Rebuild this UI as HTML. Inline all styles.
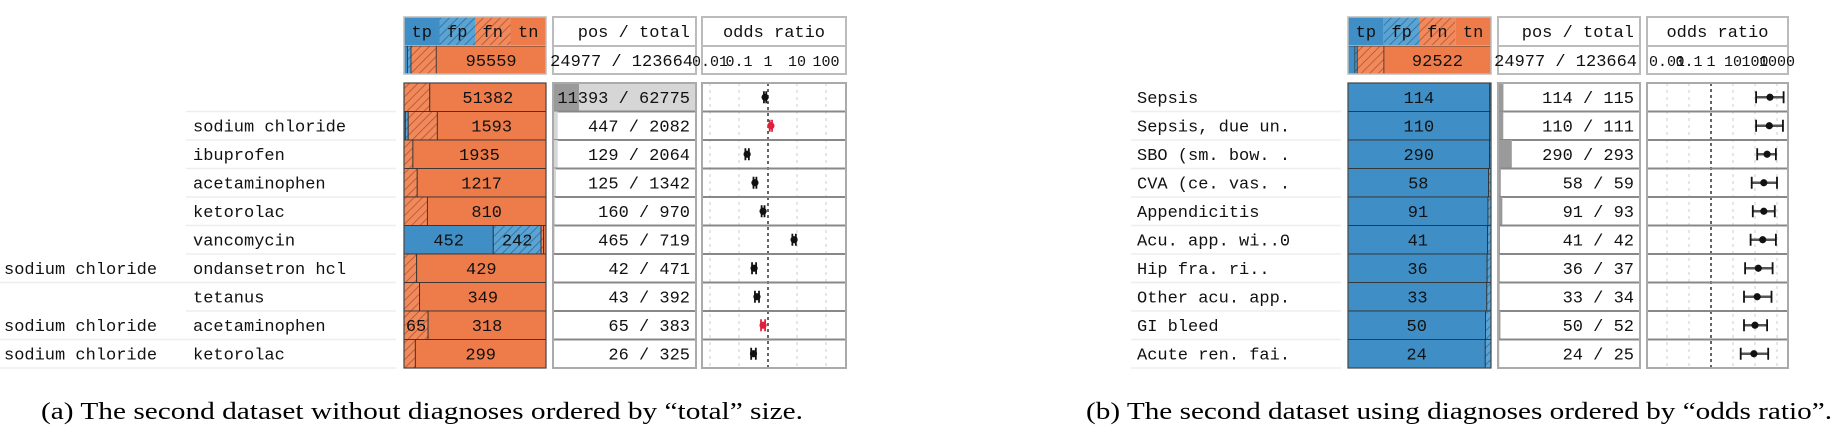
<!DOCTYPE html>
<html><head><meta charset="utf-8"><style>
body{margin:0;background:#fff;}
svg text{font-family:"Liberation Mono",monospace;}
</style></head><body>
<svg id="c" width="1839" height="436" viewBox="0 0 1839 436" xmlns="http://www.w3.org/2000/svg">
<defs>
<pattern id="hb" width="6" height="6" patternUnits="userSpaceOnUse" patternTransform="rotate(45)"><rect width="6" height="6" fill="#5aa3d3"/><line x1="0" y1="0" x2="0" y2="6" stroke="#2a6f9e" stroke-width="1.6"/></pattern>
<pattern id="ho" width="6" height="6" patternUnits="userSpaceOnUse" patternTransform="rotate(45)"><rect width="6" height="6" fill="#f08a5d"/><line x1="0" y1="0" x2="0" y2="6" stroke="#b8502a" stroke-width="1.6"/></pattern>
</defs>
<g id="A"></g>
<g id="B"></g>
<text x="41" y="419" font-size="24" textLength="762" lengthAdjust="spacingAndGlyphs" style="font-family:'Liberation Serif',serif">(a)  The second dataset without diagnoses ordered by “total” size.</text>
<text x="1086" y="419" font-size="24" textLength="746" lengthAdjust="spacingAndGlyphs" style="font-family:'Liberation Serif',serif">(b)  The second dataset using diagnoses ordered by “odds ratio”.</text>
</svg>
<script>
// Panel A data
const aLabel1 = ["", "", "", "", "", "", "sodium chloride", "", "sodium chloride", "sodium chloride"];
const aLabel2 = ["", "sodium chloride", "ibuprofen", "acetaminophen", "ketorolac", "vancomycin", "ondansetron hcl", "tetanus", "acetaminophen", "ketorolac"];
const aTp = [0, 20, 0, 0, 0, 452, 0, 0, 0, 0];
const aFp = [0, 42, 0, 0, 0, 242, 0, 0, 0, 0];
const aFn = [11393, 427, 129, 125, 160, 13, 42, 43, 65, 26];
const aTn = [51382, 1593, 1935, 1217, 810, 12, 429, 349, 318, 299];
const aExtra = [-1, -1, -1, -1, -1, 1, -1, -1, 2, -1];
const aLogOR = [-0.1, 0.1, -0.72, -0.45, -0.17, 0.9, -0.48, -0.38, -0.17, -0.5];
const aLogLo = [-0.14, 0.06, -0.78, -0.5, -0.22, 0.84, -0.55, -0.45, -0.24, -0.58];
const aLogHi = [-0.06, 0.14, -0.66, -0.4, -0.12, 0.96, -0.41, -0.31, -0.1, -0.42];
const aRed = [false, true, false, false, false, false, false, false, true, false];
const aSummary = [3000, 3128, 21977, 95559];
const aTicks = ["0.01", "0.1", "1", "10", "100"];
const aTickLogs = [-2, -1, 0, 1, 2];
// Panel B data
const bLabel2 = ["Sepsis", "Sepsis, due un.", "SBO (sm. bow. .", "CVA (ce. vas. .", "Appendicitis", "Acu. app. wi..0", "Hip fra. ri..", "Other acu. app.", "GI bleed", "Acute ren. fai."];
const bTp = [114, 110, 290, 58, 91, 41, 36, 33, 50, 24];
const bFp = [1, 1, 3, 1, 2, 1, 1, 1, 2, 1];
const bFn = [0, 0, 0, 0, 0, 0, 0, 0, 0, 0];
const bTn = [0, 0, 0, 0, 0, 0, 0, 0, 0, 0];
const bLogOR = [2.68, 2.65, 2.55, 2.4, 2.4, 2.35, 2.15, 2.1, 2.0, 1.95];
const bLogLo = [2.05, 2.05, 2.1, 1.85, 1.9, 1.8, 1.55, 1.5, 1.5, 1.35];
const bLogHi = [3.3, 3.27, 2.95, 3.0, 2.9, 2.95, 2.8, 2.75, 2.55, 2.6];
const bSummary = [6000, 2000, 23000, 92522];
const bTicks = ["0.01", "0.1", "1", "10", "100", "1000"];
const bTickLogs = [-2, -1, 0, 1, 2, 3];

const NS = "http://www.w3.org/2000/svg";
function el(p, tag, at, txt){const e=document.createElementNS(NS,tag);for(const k in at)e.setAttribute(k,at[k]);if(txt!==undefined)e.textContent=txt;p.appendChild(e);return e;}
const fills = ["#3f8fc6", "url(#hb)", "url(#ho)", "#ee7c4a"];

function panel(g, cfg){
  const {sx, sw, px, pw, ox, ow, one, dec, lab1x, lab2x, sepx0, sepx1, maxTot, rows, summary, ticks, tickLogs, header2} = cfg;
  const y0=83, rh=28.5;
  const xOR = v => one + v*dec;
  const names=["tp","fp","fn","tn"];
  for(let i=0;i<4;i++){
    const w=sw/4, x=sx+i*w;
    const r=el(g,"rect",{x:x,y:17,width:w,height:28,fill:fills[i]});
    
    
    const t=el(g,"text",{x:x+w/2,y:37,"font-size":17,"text-anchor":"middle",fill:"#111"},names[i]);
    
    
  }
  const stot=summary.reduce((a,b)=>a+b,0);
  let cx=sx;
  for(let i=0;i<4;i++){
    const w=summary[i]/stot*sw;
    const r=el(g,"rect",{x:cx,y:46,width:w,height:28,fill:fills[i],stroke:"#333","stroke-width":0.8});
    
    
    if(i==3){const t=el(g,"text",{x:cx+w/2,y:66,"font-size":17,"text-anchor":"middle",fill:"#111"},String(summary[3]));
      }
    cx+=w;
  }
  el(g,"rect",{x:sx,y:17,width:sw,height:57,fill:"none",stroke:"#bbb","stroke-width":1.5});
  el(g,"rect",{x:px,y:17,width:pw,height:57,fill:"#fff",stroke:"#bbb","stroke-width":2});
  el(g,"line",{x1:px,y1:46,x2:px+pw,y2:46,stroke:"#bbb","stroke-width":2});
  let t=el(g,"text",{x:px+pw-6,y:37,"font-size":17,"text-anchor":"end",fill:"#111"},"pos / total");
  
  t=el(g,"text",{x:px+pw-3,y:66,"font-size":17,"text-anchor":"end",fill:"#111"},header2);
  
  el(g,"rect",{x:ox,y:17,width:ow,height:57,fill:"#fff",stroke:"#bbb","stroke-width":2});
  el(g,"line",{x1:ox,y1:46,x2:ox+ow,y2:46,stroke:"#bbb","stroke-width":2});
  t=el(g,"text",{x:ox+ow/2,y:37,"font-size":17,"text-anchor":"middle",fill:"#111"},"odds ratio");
  
  for(let i=0;i<ticks.length;i++){
    const tt=el(g,"text",{x:xOR(tickLogs[i]),y:66,"font-size":15,"text-anchor":"middle",fill:"#111"},ticks[i]);
    
    
  }
  const n=rows.tp.length, yEnd=y0+n*rh;
  el(g,"rect",{x:ox,y:y0,width:ow,height:n*rh,fill:"#fff",stroke:"#aaa","stroke-width":2});
  for(let i=0;i<tickLogs.length;i++){
    const x=xOR(tickLogs[i]);
    if(tickLogs[i]===0) continue;
    el(g,"line",{x1:x,y1:y0,x2:x,y2:yEnd,stroke:"#ccc","stroke-width":1,"stroke-dasharray":"3,4"});
  }
  el(g,"line",{x1:xOR(0),y1:y0,x2:xOR(0),y2:yEnd,stroke:"#111","stroke-width":1.3,"stroke-dasharray":"3,3"});
  el(g,"rect",{x:px,y:y0,width:pw,height:n*rh,fill:"#fff",stroke:"#aaa","stroke-width":2});
  for(let r=0;r<n;r++){
    const y=y0+r*rh;
    if(rows.l1 && rows.l1[r]){const lt=el(g,"text",{x:lab1x,y:y+20,"font-size":17,fill:"#111"},rows.l1[r]);
      }
    if(rows.l2[r]){const lt=el(g,"text",{x:lab2x,y:y+20,"font-size":17,fill:"#111"},rows.l2[r]);
      }
    el(g,"line",{x1:(rows.l1&&rows.l1[r])?0:sepx0,y1:y+rh,x2:sepx1,y2:y+rh,stroke:"#eee","stroke-width":1.5});
    const vals=[rows.tp[r],rows.fp[r],rows.fn[r],rows.tn[r]];
    const tot=vals.reduce((a,b)=>a+b,0);
    let mx=0;for(let i=1;i<4;i++)if(vals[i]>vals[mx])mx=i;
    let x=sx;
    for(let i=0;i<4;i++){
      const w=vals[i]/tot*sw;
      if(w<=0)continue;
      const sr=el(g,"rect",{x:x,y:y,width:w,height:rh,fill:fills[i],stroke:"#333","stroke-width":0.9});
      
      
      if(i===mx||i===rows.extra[r]){
        const st=el(g,"text",{x:x+w/2,y:y+20,"font-size":17,"text-anchor":"middle",fill:"#111"},String(vals[i]));
        
        
      }
      x+=w;
    }
    const pos=rows.tp[r]+rows.fn[r];
    const tw=Math.min(1,tot/maxTot)*pw, pwid=Math.min(1,pos/maxTot)*pw;
    const tr=el(g,"rect",{x:px,y:y,width:tw,height:rh,fill:"#d6d6d6"});
    
    const pr=el(g,"rect",{x:px,y:y,width:pwid,height:rh,fill:"#9a9a9a"});
    
    const ptx=el(g,"text",{x:px+pw-6,y:y+20,"font-size":17,"text-anchor":"end",fill:"#111"},pos+" / "+tot);
    
    
    el(g,"line",{x1:px,y1:y+rh,x2:px+pw,y2:y+rh,stroke:"#888","stroke-width":2});
    el(g,"line",{x1:ox,y1:y+rh,x2:ox+ow,y2:y+rh,stroke:"#888","stroke-width":2});
    const col=(rows.red&&rows.red[r])?"#e0203a":"#111";
    const cy=y+rh/2, x1=xOR(rows.lo[r]), x2=xOR(rows.hi[r]), xm=xOR(rows.or[r]);
    const ci=el(g,"line",{x1:x1,y1:cy,x2:x2,y2:cy,stroke:col==="#111"?"#555":col,"stroke-width":2.5});
    
    el(g,"line",{x1:x1,y1:cy-6,x2:x1,y2:cy+6,stroke:col,"stroke-width":1.8});
    el(g,"line",{x1:x2,y1:cy-6,x2:x2,y2:cy+6,stroke:col,"stroke-width":1.8});
    const pt=el(g,"circle",{cx:xm,cy:cy,r:3.6,fill:col});
    
    
  }
  el(g,"rect",{x:sx,y:y0,width:sw,height:n*rh,fill:"none",stroke:"#444","stroke-width":1.2});
  el(g,"rect",{x:px,y:y0,width:pw,height:n*rh,fill:"none",stroke:"#aaa","stroke-width":2});
  el(g,"rect",{x:ox,y:y0,width:ow,height:n*rh,fill:"none",stroke:"#aaa","stroke-width":2});
}
panel(document.getElementById("A"),{sx:404,sw:142,px:553,pw:143,ox:702,ow:144,one:768,dec:29,lab1x:4,lab2x:193,sepx0:186,sepx1:396,maxTot:62775,
  rows:{l1:aLabel1,l2:aLabel2,tp:aTp,fp:aFp,fn:aFn,tn:aTn,extra:aExtra,or:aLogOR,lo:aLogLo,hi:aLogHi,red:aRed},
  summary:aSummary,ticks:aTicks,tickLogs:aTickLogs,header2:"24977 / 123664"});
panel(document.getElementById("B"),{sx:1348,sw:143,px:1498,pw:142,ox:1647,ow:141,one:1711,dec:22,lab1x:0,lab2x:1137,sepx0:1131,sepx1:1341,maxTot:3000,
  rows:{l1:null,l2:bLabel2,tp:bTp,fp:bFp,fn:bFn,tn:bTn,extra:[-1,-1,-1,-1,-1,-1,-1,-1,-1,-1],or:bLogOR,lo:bLogLo,hi:bLogHi,red:null},
  summary:bSummary,ticks:bTicks,tickLogs:bTickLogs,header2:"24977 / 123664"});
</script>
</body></html>
